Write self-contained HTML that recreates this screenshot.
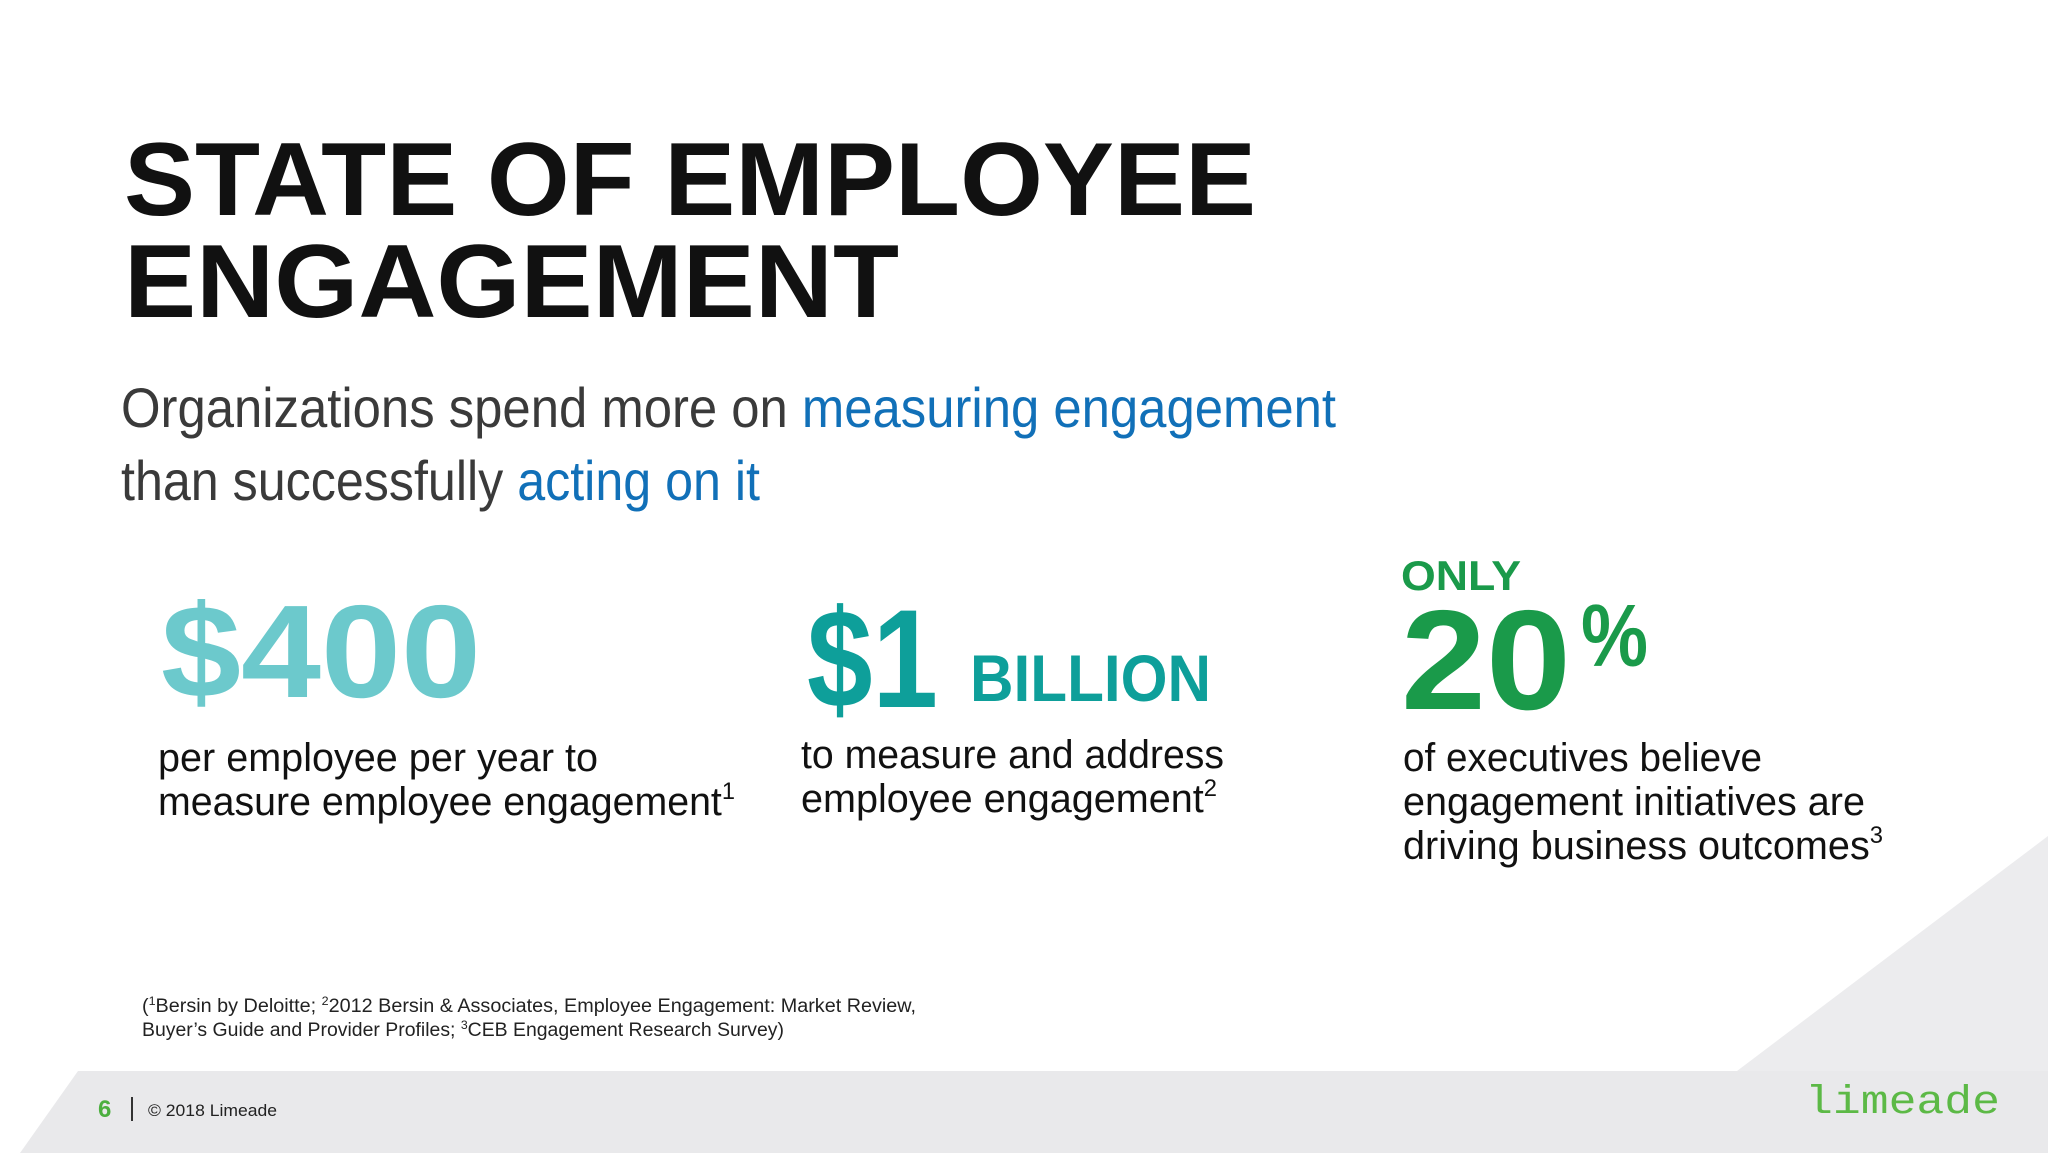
<!DOCTYPE html>
<html><head><meta charset="utf-8"><style>
html,body{margin:0;padding:0;background:#fff;}
svg{display:block;}
text{font-family:"Liberation Sans","DejaVu Sans",sans-serif;}
</style></head><body>
<svg width="2048" height="1153" viewBox="0 0 2048 1153" xmlns="http://www.w3.org/2000/svg">
  <rect x="0" y="0" width="2048" height="1153" fill="#ffffff"/>
  <polygon points="2048,836 2048,1153 1737,1153 1737,1071" fill="#ececee"/>
  <polygon points="78,1071 2048,1071 2048,1153 20,1153" fill="#e9e9eb"/>

  <text x="124" y="215" font-size="104" font-weight="bold" fill="#111" textLength="1132" lengthAdjust="spacingAndGlyphs">STATE OF EMPLOYEE</text>
  <text x="124" y="317" font-size="104" font-weight="bold" fill="#111" textLength="775" lengthAdjust="spacingAndGlyphs">ENGAGEMENT</text>

  <text x="121" y="427" font-size="56" fill="#3a3a3a" textLength="1215" lengthAdjust="spacingAndGlyphs">Organizations spend more on <tspan fill="#1170b8">measuring engagement</tspan></text>
  <text x="121" y="500" font-size="56" fill="#3a3a3a" textLength="639" lengthAdjust="spacingAndGlyphs">than successfully <tspan fill="#1170b8">acting on it</tspan></text>

  <text x="161" y="697" font-size="132" font-weight="bold" fill="#6cc9cc" textLength="320" lengthAdjust="spacingAndGlyphs">$400</text>
  <text x="158" y="771" font-size="40" fill="#111" textLength="440" lengthAdjust="spacingAndGlyphs">per employee per year to</text>
  <text x="158" y="815" font-size="40" fill="#111" textLength="577" lengthAdjust="spacingAndGlyphs">measure employee engagement<tspan font-size="24" dy="-16">1</tspan></text>

  <text x="807" y="707" font-size="140" font-weight="bold" fill="#0e9f9a" textLength="131" lengthAdjust="spacingAndGlyphs">$1</text>
  <text x="970" y="701" font-size="66" font-weight="bold" fill="#0e9f9a" textLength="241" lengthAdjust="spacingAndGlyphs">BILLION</text>
  <text x="801" y="768" font-size="40" fill="#111" textLength="423" lengthAdjust="spacingAndGlyphs">to measure and address</text>
  <text x="801" y="812" font-size="40" fill="#111" textLength="416" lengthAdjust="spacingAndGlyphs">employee engagement<tspan font-size="24" dy="-16">2</tspan></text>

  <text x="1401" y="590" font-size="42" font-weight="bold" fill="#1a9a4a" textLength="120" lengthAdjust="spacingAndGlyphs">ONLY</text>
  <text x="1401" y="709" font-size="142" font-weight="bold" fill="#1a9a4a" textLength="170" lengthAdjust="spacingAndGlyphs">20</text>
  <text x="1581" y="666" font-size="88" font-weight="bold" fill="#1a9a4a" textLength="67" lengthAdjust="spacingAndGlyphs">%</text>
  <text x="1403" y="771" font-size="40" fill="#111" textLength="359" lengthAdjust="spacingAndGlyphs">of executives believe</text>
  <text x="1403" y="815" font-size="40" fill="#111" textLength="462" lengthAdjust="spacingAndGlyphs">engagement initiatives are</text>
  <text x="1403" y="859" font-size="40" fill="#111" textLength="480" lengthAdjust="spacingAndGlyphs">driving business outcomes<tspan font-size="24" dy="-16">3</tspan></text>

  <text x="142" y="1012" font-size="19" fill="#222" textLength="774" lengthAdjust="spacingAndGlyphs">(<tspan font-size="12" dy="-7">1</tspan><tspan dy="7">Bersin by Deloitte; </tspan><tspan font-size="12" dy="-7">2</tspan><tspan dy="7">2012 Bersin &amp; Associates, Employee Engagement: Market Review,</tspan></text>
  <text x="142" y="1036" font-size="19" fill="#222" textLength="642" lengthAdjust="spacingAndGlyphs">Buyer’s Guide and Provider Profiles; <tspan font-size="12" dy="-7">3</tspan><tspan dy="7">CEB Engagement Research Survey)</tspan></text>

  <text x="98" y="1117" font-size="24" font-weight="bold" fill="#4caf3f">6</text>
  <rect x="131" y="1097" width="2" height="24" fill="#333"/>
  <text x="148" y="1116" font-size="17" fill="#222" textLength="129" lengthAdjust="spacingAndGlyphs">© 2018 Limeade</text>
  <text x="1805" y="1113" font-size="40" fill="#5cb946" font-family="Liberation Mono, monospace" textLength="195" lengthAdjust="spacingAndGlyphs" style="font-family:'Liberation Mono',monospace">limeade</text>
</svg>
</body></html>
